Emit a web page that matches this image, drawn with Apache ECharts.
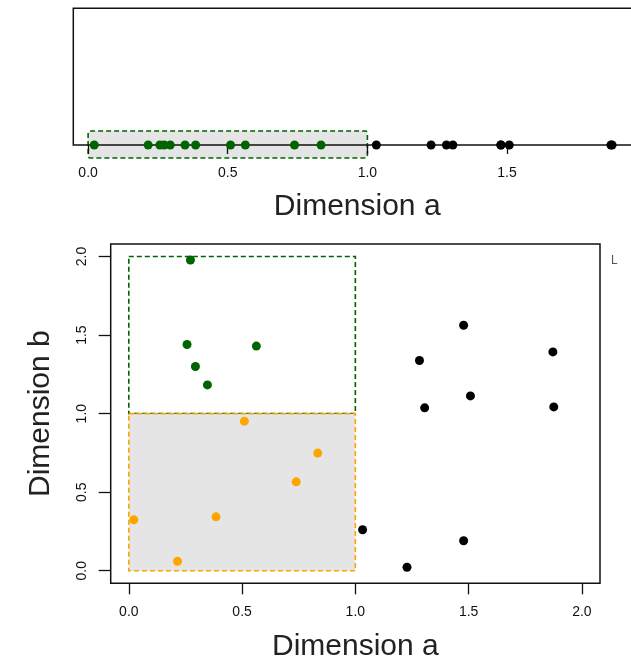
<!DOCTYPE html>
<html><head><meta charset="utf-8">
<script src="https://cdn.jsdelivr.net/npm/echarts@6/dist/echarts.min.js"></script>
<style>html,body{margin:0;padding:0;background:#fff}#c{width:631px;height:660px}</style>
</head><body><div id="c"></div>
<script>
// ---- data ----
const tickValues = [0, 0.5, 1, 1.5, 2];
const topTickValues = [0, 0.5, 1, 1.5];
const tickLabels = ['0.0', '0.5', '1.0', '1.5', '2.0'];

const greenA = [0.272, 0.257, 0.563, 0.294, 0.347];
const greenB = [1.978, 1.44, 1.43, 1.30, 1.183];

const orangeA = [0.51, 0.834, 0.739, 0.385, 0.022, 0.215];
const orangeB = [0.952, 0.749, 0.566, 0.343, 0.324, 0.06];

const blackA = [1.032, 1.478, 1.872, 1.283, 1.508, 1.306, 1.876, 1.478, 1.228];
const blackB = [0.261, 1.563, 1.393, 1.338, 1.113, 1.037, 1.043, 0.191, 0.022];

const regionTop = [0, 1];              // selected a-range
const regionGreen = [0, 1, 1, 2];      // a0, b0, a1, b1
const regionOrange = [0, 0, 1, 1];     // a0, b0, a1, b1

// ---- chart ----
const FONT = 'Liberation Sans, Arial, Helvetica, sans-serif';
const chart = echarts.init(document.getElementById('c'), null, {renderer: 'canvas'});
const fmt = v => { const i = tickValues.indexOf(Math.round(v * 100) / 100); return i >= 0 ? tickLabels[i] : ''; };
const zip = (a, b) => a.map((v, i) => [v, b[i]]);

function rectItem(fill, stroke) {
  return function (params, api) {
    const p0 = api.coord([api.value(0), api.value(1)]);
    const p1 = api.coord([api.value(2), api.value(3)]);
    return {
      type: 'rect',
      shape: {x: p0[0], y: p1[1], width: p1[0] - p0[0], height: p0[1] - p1[1]},
      style: {fill: fill, stroke: stroke, lineWidth: 1.6, lineDash: [5, 3]}
    };
  };
}

const GREEN = '#006400';
const tickStyle = {color: '#111', width: 1.3};
const labelStyle = {fontFamily: FONT, fontSize: 14, color: '#111'};
const nameStyle = {fontFamily: FONT, fontSize: 30, color: '#222'};

chart.setOption({
  animation: false,
  backgroundColor: '#fff',
  grid: [
    {left: 73.3, top: 8.3, width: 567.8, height: 136.7, show: true, borderColor: '#111', borderWidth: 1.5,
     backgroundColor: 'transparent', outerBoundsMode: 'none', containLabel: false},
    {left: 110.7, top: 244, width: 489.3, height: 339.3, show: true, borderColor: '#111', borderWidth: 1.5,
     backgroundColor: 'transparent', outerBoundsMode: 'none', containLabel: false}
  ],
  xAxis: [
    {
      type: 'value', gridIndex: 0, min: -0.053, max: 1.98,
      splitLine: {show: false}, axisLine: {show: false, onZero: false},
      axisTick: {show: true, length: 9, lineStyle: tickStyle, customValues: topTickValues},
      axisLabel: {show: true, margin: 21, formatter: fmt, customValues: topTickValues, ...labelStyle},
      name: 'Dimension a', nameLocation: 'middle', nameGap: 47, nameTextStyle: nameStyle
    },
    {
      type: 'value', gridIndex: 1, min: -0.08, max: 2.08,
      splitLine: {show: false}, axisLine: {show: false, onZero: false},
      axisTick: {show: true, length: 11, lineStyle: tickStyle, customValues: tickValues},
      axisLabel: {show: true, margin: 22, formatter: fmt, customValues: tickValues, ...labelStyle},
      name: 'Dimension a', nameLocation: 'middle', nameGap: 48, nameTextStyle: nameStyle
    }
  ],
  yAxis: [
    {type: 'value', gridIndex: 0, min: 0, max: 1, show: false},
    {
      type: 'value', gridIndex: 1, min: -0.08, max: 2.08,
      splitLine: {show: false}, axisLine: {show: false, onZero: false},
      axisTick: {show: true, length: 12, lineStyle: tickStyle, customValues: tickValues},
      axisLabel: {show: true, margin: 22, rotate: 90, formatter: fmt, customValues: tickValues, ...labelStyle},
      name: 'Dimension b', nameLocation: 'middle', nameGap: 55, nameTextStyle: nameStyle
    }
  ],
  series: [
    {
      type: 'custom', xAxisIndex: 0, yAxisIndex: 0, z: -1, clip: false, silent: true,
      data: [[regionTop[0], regionTop[1]]],
      renderItem: function (params, api) {
        const p0 = api.coord([api.value(0), 0]);
        const p1 = api.coord([api.value(1), 0]);
        return {
          type: 'rect',
          shape: {x: p0[0], y: p0[1] - 14, width: p1[0] - p0[0], height: 27, r: 2},
          style: {fill: '#e5e5e5', stroke: GREEN, lineWidth: 1.6, lineDash: [5, 3]}
        };
      }
    },
    {
      type: 'scatter', xAxisIndex: 0, yAxisIndex: 0, clip: false, symbolSize: 9,
      itemStyle: {color: GREEN, opacity: 1},
      data: greenA.concat(orangeA).map(a => [a, 0])
    },
    {
      type: 'scatter', xAxisIndex: 0, yAxisIndex: 0, clip: false, symbolSize: 9,
      itemStyle: {color: '#000', opacity: 1},
      data: blackA.map(a => [a, 0])
    },
    {
      type: 'custom', xAxisIndex: 1, yAxisIndex: 1, clip: false, silent: true,
      data: [regionGreen],
      renderItem: rectItem('transparent', GREEN)
    },
    {
      type: 'custom', xAxisIndex: 1, yAxisIndex: 1, clip: false, silent: true,
      data: [regionOrange],
      renderItem: rectItem('#e5e5e5', '#ffa500')
    },
    {
      type: 'scatter', xAxisIndex: 1, yAxisIndex: 1, symbolSize: 9,
      itemStyle: {color: GREEN, opacity: 1}, data: zip(greenA, greenB)
    },
    {
      type: 'scatter', xAxisIndex: 1, yAxisIndex: 1, symbolSize: 9,
      itemStyle: {color: '#ffa500', opacity: 1}, data: zip(orangeA, orangeB)
    },
    {
      type: 'scatter', xAxisIndex: 1, yAxisIndex: 1, symbolSize: 9,
      itemStyle: {color: '#000', opacity: 1}, data: zip(blackA, blackB)
    }
  ],
  graphic: [
    {type: 'text', left: 611, top: 255, style: {text: 'L', fontFamily: FONT, fontSize: 12, fill: '#555'}}
  ]
});
</script>
</body></html>
